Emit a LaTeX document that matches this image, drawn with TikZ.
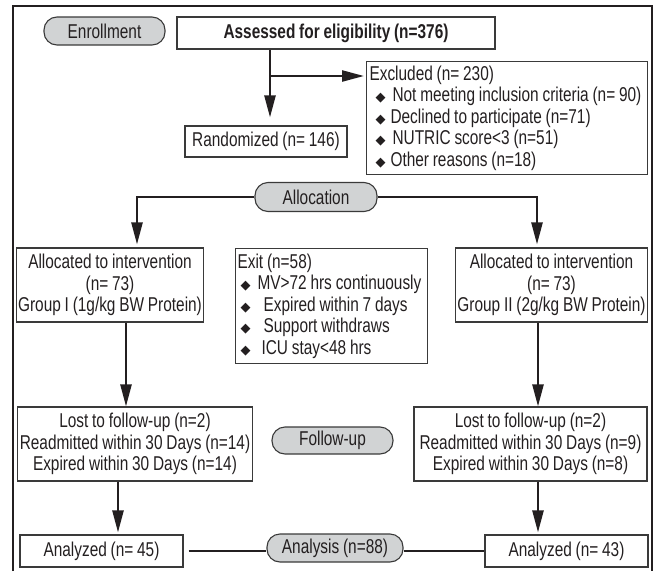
\documentclass[tikz,border=0pt]{standalone}
\usepackage{fontspec}
\setmainfont[FakeStretch=0.77]{Liberation Sans}
\newfontfamily\symf{DejaVu Sans}
\usetikzlibrary{arrows.meta}
\definecolor{inkc}{HTML}{231F20}
\definecolor{boxc}{HTML}{3A3A3A}
\definecolor{pillc}{HTML}{D1D3D4}
\newcommand{\dia}{{\symf\fontsize{13}{13}\selectfont ◆}}
\newcommand{\tightsp}{\spaceskip 3.8pt\relax}

\begin{document}
\begin{tikzpicture}[x=1pt,y=-1pt,
  font=\fontsize{20}{21.5}\selectfont, text=inkc, execute at begin node=\tightsp,
  box/.style={draw=boxc, line width=1.1pt, inner sep=2pt, align=center},
  listbox/.style={box, anchor=north west, align=left},
  pill/.style={draw=boxc, fill=pillc, line width=1.1pt, rounded corners=13pt, inner sep=0pt},
  link/.style={draw=inkc, line width=2.4pt},
  arr/.style={link, -{Triangle[length=22pt,width=11pt]}}]
  \useasboundingbox (0,0) rectangle (654,571);
  % outer frame, open at the bottom
  \draw[draw=inkc, line width=2.6pt, line join=miter] (13,571) -- (13,6) -- (652,6) -- (652,571);
  % enrollment
  \node[pill, minimum width=121pt, minimum height=28pt] (enroll) at (104.5,31) {Enrollment};
  \node[box, minimum width=318pt, minimum height=32pt, font=\fontsize{20}{21.5}\selectfont\bfseries]
    (assess) at (336,33) {Assessed for eligibility (n=376)};
  \node[listbox, minimum width=281pt, minimum height=113pt, inner xsep=3pt, text width=275pt]
    (excl) at (366,61)
    {Excluded (n= 230)\\
     \mbox{\hspace*{6pt}\dia\hspace{7pt}Not meeting inclusion criteria (n= 90)}\\
     \mbox{\hspace*{6pt}\dia\hspace{5pt}Declined to participate (n=71)}\\
     \mbox{\hspace*{6pt}\dia\hspace{7pt}NUTRIC score\textless3 (n=51)}\\
     \mbox{\hspace*{6pt}\dia\hspace{5pt}Other reasons (n=18)}};
  \node[box, minimum width=162pt, minimum height=31pt] (rand) at (266,141.5) {Randomized (n= 146)};
  \coordinate (split) at (270,76);
  \draw[arr, shorten >=8pt] (assess.south -| split) -- (split |- rand.north);
  \draw[arr, shorten >=2pt] (split) -- (split -| excl.west);
  % allocation
  \node[pill, minimum width=122pt, minimum height=29pt] (allocp) at (316,197) {Allocation};
  \node[box, minimum width=184pt, minimum height=74pt] (alloca) at (110,285)
    {Allocated to intervention\\(n= 73)\\Group I (1g/kg BW Protein)};
  \node[box, minimum width=191pt, minimum height=74pt] (allocb) at (551.5,285)
    {Allocated to intervention\\(n= 73)\\Group II (2g/kg BW Protein)};
  \node[listbox, minimum width=192pt, minimum height=115pt, inner xsep=2pt, text width=188pt]
    (exit) at (235,248)
    {Exit (n=58)\\
     \mbox{\hspace*{3pt}\dia\hspace{7pt}MV\textgreater72 hrs continuously}\\
     \mbox{\hspace*{3pt}\dia\hspace{13pt}Expired within 7 days}\\
     \mbox{\hspace*{3pt}\dia\hspace{13pt}Support withdraws}\\
     \mbox{\hspace*{3pt}\dia\hspace{11pt}ICU stay\textless48 hrs}};
  \draw[arr, shorten >=3pt] (allocp.west) -| ([xshift=27pt]alloca.north);
  \draw[arr, shorten >=3pt] (allocp.east) -| ([xshift=-14.5pt]allocb.north);
  % follow-up
  \node[pill, minimum width=121pt, minimum height=27pt] (fup) at (332.5,440.5) {Follow-up};
  \node[box, minimum width=234pt, minimum height=74pt] (fua) at (135,444)
    {Lost to follow-up (n=2)\\Readmitted within 30 Days (n=14)\\Expired within 30 Days (n=14)};
  \node[box, minimum width=233pt, minimum height=74pt] (fub) at (530.5,444)
    {Lost to follow-up (n=2)\\Readmitted within 30 Days (n=9)\\Expired within 30 Days (n=8)};
  \draw[arr] ([xshift=16pt]alloca.south) -- ([xshift=16pt]alloca.south |- fua.north);
  \draw[arr] ([xshift=-13.5pt]allocb.south) -- ([xshift=-13.5pt]allocb.south |- fub.north);
  % analysis
  \node[pill, minimum width=136pt, minimum height=28pt] (anp) at (335,548) {Analysis (n=88)};
  \node[box, minimum width=163pt, minimum height=32pt] (ana) at (101.5,551) {Analyzed (n= 45)};
  \node[box, minimum width=163pt, minimum height=32pt] (anb) at (566.5,551) {Analyzed (n= 43)};
  \draw[arr, shorten >=2pt] ([xshift=-17pt]fua.south) -- ([xshift=-17pt]fua.south |- ana.north);
  \draw[arr, shorten >=2pt] ([xshift=7.5pt]fub.south) -- ([xshift=7.5pt]fub.south |- anb.north);
  \draw[link, shorten <=5pt] (ana.east) -- (ana.east -| anp.west);
  \draw[link] (anp.east |- anb.west) -- (anb.west);
\end{tikzpicture}
\end{document}
